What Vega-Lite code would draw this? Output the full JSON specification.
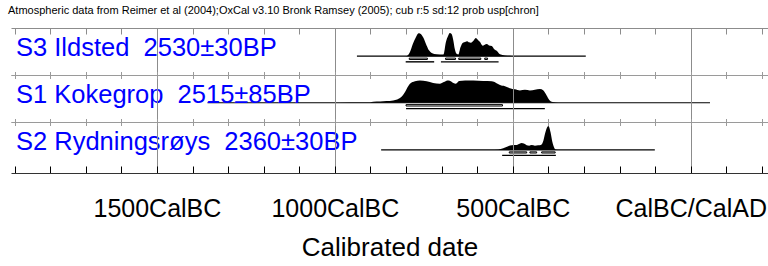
{
  "$schema": "https://vega.github.io/schema/vega-lite/v6.json",
  "padding": {"left": 8, "top": 4, "right": 0, "bottom": 0},
  "title": {"text": "Atmospheric data from Reimer et al (2004);OxCal v3.10 Bronk Ramsey (2005); cub r:5 sd:12 prob usp[chron]", "anchor": "start", "fontSize": 11, "fontWeight": "normal", "font": "Liberation Sans", "color": "black", "dx": -3, "offset": 12},
  "spacing": 0,
  "bounds": "flush",
  "datasets": {
    "dist": [
      {"row": "S3", "year": -806, "p": 0}, {"row": "S3", "year": -798, "p": 0.01}, {"row": "S3", "year": -789, "p": 0.18}, {"row": "S3", "year": -781, "p": 0.52}, {"row": "S3", "year": -772, "p": 0.82}, {"row": "S3", "year": -765, "p": 0.98}, {"row": "S3", "year": -761, "p": 0.97}, {"row": "S3", "year": -752, "p": 0.81}, {"row": "S3", "year": -742, "p": 0.45}, {"row": "S3", "year": -735, "p": 0.24}, {"row": "S3", "year": -728, "p": 0.14}, {"row": "S3", "year": -714, "p": 0.085}, {"row": "S3", "year": -695, "p": 0.07}, {"row": "S3", "year": -688, "p": 0.6}, {"row": "S3", "year": -682, "p": 0.86}, {"row": "S3", "year": -677, "p": 0.99}, {"row": "S3", "year": -672, "p": 0.95}, {"row": "S3", "year": -667, "p": 0.66}, {"row": "S3", "year": -663, "p": 0.31}, {"row": "S3", "year": -658, "p": 0.1}, {"row": "S3", "year": -653, "p": 0.07}, {"row": "S3", "year": -647, "p": 0.38}, {"row": "S3", "year": -640, "p": 0.57}, {"row": "S3", "year": -634, "p": 0.6}, {"row": "S3", "year": -628, "p": 0.64}, {"row": "S3", "year": -623, "p": 0.59}, {"row": "S3", "year": -618, "p": 0.57}, {"row": "S3", "year": -609, "p": 0.69}, {"row": "S3", "year": -604, "p": 0.77}, {"row": "S3", "year": -598, "p": 0.69}, {"row": "S3", "year": -592, "p": 0.6}, {"row": "S3", "year": -585, "p": 0.45}, {"row": "S3", "year": -580, "p": 0.48}, {"row": "S3", "year": -573, "p": 0.52}, {"row": "S3", "year": -567, "p": 0.46}, {"row": "S3", "year": -559, "p": 0.43}, {"row": "S3", "year": -553, "p": 0.31}, {"row": "S3", "year": -545, "p": 0.23}, {"row": "S3", "year": -536, "p": 0.08}, {"row": "S3", "year": -522, "p": 0.035}, {"row": "S3", "year": -502, "p": 0.013}, {"row": "S3", "year": -480, "p": 0},
      {"row": "S1", "year": -986, "p": 0}, {"row": "S1", "year": -930, "p": 0.007}, {"row": "S1", "year": -901, "p": 0.014}, {"row": "S1", "year": -892, "p": 0.043}, {"row": "S1", "year": -873, "p": 0.05}, {"row": "S1", "year": -855, "p": 0.07}, {"row": "S1", "year": -836, "p": 0.1}, {"row": "S1", "year": -825, "p": 0.14}, {"row": "S1", "year": -817, "p": 0.2}, {"row": "S1", "year": -812, "p": 0.26}, {"row": "S1", "year": -806, "p": 0.38}, {"row": "S1", "year": -798, "p": 0.6}, {"row": "S1", "year": -789, "p": 0.81}, {"row": "S1", "year": -775, "p": 0.91}, {"row": "S1", "year": -761, "p": 0.95}, {"row": "S1", "year": -742, "p": 0.91}, {"row": "S1", "year": -724, "p": 0.84}, {"row": "S1", "year": -705, "p": 0.81}, {"row": "S1", "year": -694, "p": 0.88}, {"row": "S1", "year": -684, "p": 0.95}, {"row": "S1", "year": -677, "p": 0.94}, {"row": "S1", "year": -667, "p": 0.84}, {"row": "S1", "year": -660, "p": 0.81}, {"row": "S1", "year": -651, "p": 0.92}, {"row": "S1", "year": -634, "p": 0.95}, {"row": "S1", "year": -611, "p": 0.95}, {"row": "S1", "year": -583, "p": 0.92}, {"row": "S1", "year": -559, "p": 0.91}, {"row": "S1", "year": -547, "p": 0.84}, {"row": "S1", "year": -536, "p": 0.75}, {"row": "S1", "year": -522, "p": 0.7}, {"row": "S1", "year": -508, "p": 0.62}, {"row": "S1", "year": -494, "p": 0.57}, {"row": "S1", "year": -480, "p": 0.52}, {"row": "S1", "year": -466, "p": 0.55}, {"row": "S1", "year": -452, "p": 0.52}, {"row": "S1", "year": -438, "p": 0.55}, {"row": "S1", "year": -424, "p": 0.58}, {"row": "S1", "year": -414, "p": 0.52}, {"row": "S1", "year": -405, "p": 0.31}, {"row": "S1", "year": -398, "p": 0.13}, {"row": "S1", "year": -388, "p": 0.03}, {"row": "S1", "year": -372, "p": 0},
      {"row": "S2", "year": -564, "p": 0}, {"row": "S2", "year": -541, "p": 0.014}, {"row": "S2", "year": -527, "p": 0.07}, {"row": "S2", "year": -513, "p": 0.16}, {"row": "S2", "year": -503, "p": 0.2}, {"row": "S2", "year": -489, "p": 0.21}, {"row": "S2", "year": -480, "p": 0.27}, {"row": "S2", "year": -475, "p": 0.3}, {"row": "S2", "year": -469, "p": 0.27}, {"row": "S2", "year": -461, "p": 0.2}, {"row": "S2", "year": -454, "p": 0.18}, {"row": "S2", "year": -447, "p": 0.21}, {"row": "S2", "year": -438, "p": 0.18}, {"row": "S2", "year": -429, "p": 0.2}, {"row": "S2", "year": -421, "p": 0.21}, {"row": "S2", "year": -414, "p": 0.4}, {"row": "S2", "year": -409, "p": 0.72}, {"row": "S2", "year": -403, "p": 0.98}, {"row": "S2", "year": -400, "p": 1.02}, {"row": "S2", "year": -398, "p": 0.98}, {"row": "S2", "year": -394, "p": 0.75}, {"row": "S2", "year": -389, "p": 0.35}, {"row": "S2", "year": -384, "p": 0.11}, {"row": "S2", "year": -379, "p": 0.014}, {"row": "S2", "year": -368, "p": 0}
    ],
    "rows": [
      {"row": "S3", "label": "S3 Ildsted \u00a02530±30BP", "start": -938, "end": -295},
      {"row": "S1", "label": "S1 Kokegrop \u00a02515±85BP", "start": -1358, "end": 54},
      {"row": "S2", "label": "S2 Rydningsrøys \u00a02360±30BP", "start": -870, "end": -101}
    ],
    "ranges": [
      {"row": "S3", "level": "68.2", "from": -791, "to": -740}, {"row": "S3", "level": "68.2", "from": -689, "to": -661}, {"row": "S3", "level": "68.2", "from": -652, "to": -590}, {"row": "S3", "level": "68.2", "from": -579, "to": -571},
      {"row": "S3", "level": "95.4", "from": -801, "to": -721}, {"row": "S3", "level": "95.4", "from": -702, "to": -540},
      {"row": "S1", "level": "68.2", "from": -800, "to": -529}, {"row": "S1", "level": "95.4", "from": -800, "to": -410},
      {"row": "S2", "level": "68.2", "from": -510, "to": -461}, {"row": "S2", "level": "68.2", "from": -452, "to": -433}, {"row": "S2", "level": "68.2", "from": -419, "to": -381},
      {"row": "S2", "level": "95.4", "from": -530, "to": -379}
    ]
  },
  "vconcat": [
    {
      "width": 757, "height": 47,
      "layer": [
        {"data": {"name": "dist"}, "transform": [{"filter": "datum.row === 'S3'"}],
         "mark": {"type": "area", "color": "black", "interpolate": "monotone"},
         "encoding": {
           "x": {"field": "year", "type": "quantitative", "scale": {"domain": [-1910, 217], "nice": false, "zero": false}, "axis": {"orient": "top", "values": [-1900,-1800,-1700,-1600,-1500,-1400,-1300,-1200,-1100,-1000,-900,-800,-700,-600,-500,-400,-300,-200,-100,0,100,200], "labels": false, "title": null, "grid": false, "tickSize": -6, "tickColor": "#8c8c8c", "domainColor": "#8c8c8c", "domainWidth": 1.2, "zindex": 1}},
           "y": {"field": "p", "type": "quantitative", "scale": {"domain": [-0.8, 1.2], "nice": false, "zero": false}, "axis": {"orient": "left", "labels": false, "ticks": false, "grid": false, "title": null, "domainColor": "black", "zindex": 2}},
           "y2": {"datum": 0}
         }},
        {"data": {"name": "rows"}, "transform": [{"filter": "datum.row === 'S3'"}],
         "mark": {"type": "rule", "color": "black", "strokeWidth": 1.2},
         "encoding": {
           "x": {"field": "start", "type": "quantitative", "scale": {"domain": [-1910, 217], "nice": false, "zero": false}, "axis": {"orient": "bottom", "values": [-1900,-1800,-1700,-1600,-1500,-1400,-1300,-1200,-1100,-1000,-900,-800,-700,-600,-500,-400,-300,-200,-100,0,100,200], "labels": false, "title": null, "grid": false, "tickSize": -3.5, "tickColor": "#9a9a9a", "domainColor": "#9a9a9a", "domainWidth": 1.2, "zindex": 1}},
           "x2": {"field": "end"},
           "y": {"datum": 0, "type": "quantitative", "scale": {"domain": [-0.8, 1.2], "nice": false, "zero": false}, "axis": null}
         }},
        {"data": {"name": "ranges"}, "transform": [{"filter": "datum.row === 'S3' && datum.level === '95.4'"}],
         "mark": {"type": "rect", "color": "black"},
         "encoding": {
           "x": {"field": "from", "type": "quantitative", "scale": {"domain": [-1910, 217], "nice": false, "zero": false}, "axis": {"orient": "bottom", "values": [-1500, -1000, -500, 0], "labels": false, "ticks": false, "domain": false, "title": null, "grid": true, "gridColor": "#8c8c8c", "gridWidth": 1, "zindex": 1}},
           "x2": {"field": "to"},
           "y": {"datum": -0.21, "type": "quantitative", "scale": {"domain": [-0.8, 1.2], "nice": false, "zero": false}, "axis": null},
           "y2": {"datum": -0.27}
         }},
        {"data": {"name": "ranges"}, "transform": [{"filter": "datum.row === 'S3' && datum.level === '68.2'"}],
         "mark": {"type": "rect", "fill": "white", "stroke": "black", "strokeWidth": 1},
         "encoding": {
           "x": {"field": "from", "type": "quantitative", "scale": {"domain": [-1910, 217], "nice": false, "zero": false}, "axis": null},
           "x2": {"field": "to"},
           "y": {"datum": -0.08, "type": "quantitative", "scale": {"domain": [-0.8, 1.2], "nice": false, "zero": false}, "axis": null},
           "y2": {"datum": -0.14}
         }},
        {"data": {"name": "rows"}, "transform": [{"filter": "datum.row === 'S3'"}],
         "mark": {"type": "text", "align": "left", "baseline": "alphabetic", "fontSize": 25.5, "color": "#0000ff", "font": "Liberation Sans"},
         "encoding": {
           "x": {"datum": -1896, "type": "quantitative", "scale": {"domain": [-1910, 217], "nice": false, "zero": false}, "axis": null},
           "y": {"datum": 0, "type": "quantitative", "scale": {"domain": [-0.8, 1.2], "nice": false, "zero": false}, "axis": null},
           "text": {"field": "label"}
         }}
      ],
      "resolve": {"axis": {"x": "independent"}}
    },
    {
      "width": 757, "height": 47,
      "layer": [
        {"data": {"name": "dist"}, "transform": [{"filter": "datum.row === 'S1'"}],
         "mark": {"type": "area", "color": "black", "interpolate": "monotone"},
         "encoding": {
           "x": {"field": "year", "type": "quantitative", "scale": {"domain": [-1910, 217], "nice": false, "zero": false}, "axis": {"orient": "top", "values": [-1900,-1800,-1700,-1600,-1500,-1400,-1300,-1200,-1100,-1000,-900,-800,-700,-600,-500,-400,-300,-200,-100,0,100,200], "labels": false, "title": null, "grid": false, "tickSize": -3.5, "tickColor": "#9a9a9a", "domainColor": "#9a9a9a", "domainWidth": 1.2, "zindex": 1}},
           "y": {"field": "p", "type": "quantitative", "scale": {"domain": [-0.82, 1.18], "nice": false, "zero": false}, "axis": {"orient": "left", "labels": false, "ticks": false, "grid": false, "title": null, "domainColor": "black", "zindex": 2}},
           "y2": {"datum": 0}
         }},
        {"data": {"name": "rows"}, "transform": [{"filter": "datum.row === 'S1'"}],
         "mark": {"type": "rule", "color": "black", "strokeWidth": 1.2},
         "encoding": {
           "x": {"field": "start", "type": "quantitative", "scale": {"domain": [-1910, 217], "nice": false, "zero": false}, "axis": {"orient": "bottom", "values": [-1900,-1800,-1700,-1600,-1500,-1400,-1300,-1200,-1100,-1000,-900,-800,-700,-600,-500,-400,-300,-200,-100,0,100,200], "labels": false, "title": null, "grid": false, "tickSize": -3.5, "tickColor": "#9a9a9a", "domainColor": "#9a9a9a", "domainWidth": 1.2, "zindex": 1}},
           "x2": {"field": "end"},
           "y": {"datum": 0, "type": "quantitative", "scale": {"domain": [-0.82, 1.18], "nice": false, "zero": false}, "axis": null}
         }},
        {"data": {"name": "ranges"}, "transform": [{"filter": "datum.row === 'S1' && datum.level === '95.4'"}],
         "mark": {"type": "rect", "color": "black"},
         "encoding": {
           "x": {"field": "from", "type": "quantitative", "scale": {"domain": [-1910, 217], "nice": false, "zero": false}, "axis": {"orient": "bottom", "values": [-1500, -1000, -500, 0], "labels": false, "ticks": false, "domain": false, "title": null, "grid": true, "gridColor": "#8c8c8c", "gridWidth": 1, "zindex": 1}},
           "x2": {"field": "to"},
           "y": {"datum": -0.22, "type": "quantitative", "scale": {"domain": [-0.82, 1.18], "nice": false, "zero": false}, "axis": null},
           "y2": {"datum": -0.28}
         }},
        {"data": {"name": "ranges"}, "transform": [{"filter": "datum.row === 'S1' && datum.level === '68.2'"}],
         "mark": {"type": "rect", "fill": "white", "stroke": "black", "strokeWidth": 1},
         "encoding": {
           "x": {"field": "from", "type": "quantitative", "scale": {"domain": [-1910, 217], "nice": false, "zero": false}, "axis": null},
           "x2": {"field": "to"},
           "y": {"datum": -0.08, "type": "quantitative", "scale": {"domain": [-0.82, 1.18], "nice": false, "zero": false}, "axis": null},
           "y2": {"datum": -0.14}
         }},
        {"data": {"name": "rows"}, "transform": [{"filter": "datum.row === 'S1'"}],
         "mark": {"type": "text", "align": "left", "baseline": "alphabetic", "fontSize": 25.5, "color": "#0000ff", "font": "Liberation Sans"},
         "encoding": {
           "x": {"datum": -1896, "type": "quantitative", "scale": {"domain": [-1910, 217], "nice": false, "zero": false}, "axis": null},
           "y": {"datum": 0, "type": "quantitative", "scale": {"domain": [-0.82, 1.18], "nice": false, "zero": false}, "axis": null},
           "text": {"field": "label"}
         }}
      ],
      "resolve": {"axis": {"x": "independent"}}
    },
    {
      "width": 757, "height": 51,
      "layer": [
        {"data": {"name": "dist"}, "transform": [{"filter": "datum.row === 'S2'"}],
         "mark": {"type": "area", "color": "black", "interpolate": "monotone"},
         "encoding": {
           "x": {"field": "year", "type": "quantitative", "scale": {"domain": [-1910, 217], "nice": false, "zero": false}, "axis": {"orient": "top", "values": [-1900,-1800,-1700,-1600,-1500,-1400,-1300,-1200,-1100,-1000,-900,-800,-700,-600,-500,-400,-300,-200,-100,0,100,200], "labels": false, "title": null, "grid": false, "tickSize": -3.5, "tickColor": "#9a9a9a", "domainColor": "#9a9a9a", "domainWidth": 1.2, "zindex": 1}},
           "y": {"field": "p", "type": "quantitative", "scale": {"domain": [-0.98, 1.19], "nice": false, "zero": false}, "axis": {"orient": "left", "labels": false, "ticks": false, "grid": false, "title": null, "domainColor": "black", "zindex": 2}},
           "y2": {"datum": 0}
         }},
        {"data": {"name": "rows"}, "transform": [{"filter": "datum.row === 'S2'"}],
         "mark": {"type": "rule", "color": "black", "strokeWidth": 1.2},
         "encoding": {
           "x": {"field": "start", "type": "quantitative", "scale": {"domain": [-1910, 217], "nice": false, "zero": false}, "axis": {"orient": "bottom", "values": [-1900,-1800,-1700,-1600,-1500,-1400,-1300,-1200,-1100,-1000,-900,-800,-700,-600,-500,-400,-300,-200,-100,0,100,200], "labels": false, "title": null, "grid": false, "tickSize": -7, "tickColor": "black", "domainColor": "#333333", "zindex": 1}},
           "x2": {"field": "end"},
           "y": {"datum": 0, "type": "quantitative", "scale": {"domain": [-0.98, 1.19], "nice": false, "zero": false}, "axis": null}
         }},
        {"data": {"name": "ranges"}, "transform": [{"filter": "datum.row === 'S2' && datum.level === '95.4'"}],
         "mark": {"type": "rect", "color": "black"},
         "encoding": {
           "x": {"field": "from", "type": "quantitative", "scale": {"domain": [-1910, 217], "nice": false, "zero": false}, "axis": {"orient": "bottom", "values": [-1500, -1000, -500, 0], "labelExpr": "datum.value == 0 ? 'CalBC/CalAD' : (-datum.value) + 'CalBC'", "labelFontSize": 25, "labelFont": "Liberation Sans", "labelColor": "black", "labelPadding": 23, "ticks": false, "domain": false, "title": "Calibrated date", "titleFontSize": 26, "titleFont": "Liberation Sans", "titleFontWeight": "normal", "titleColor": "black", "titlePadding": 13, "grid": true, "gridColor": "#8c8c8c", "gridWidth": 1, "zindex": 1}},
           "x2": {"field": "to"},
           "y": {"datum": -0.2, "type": "quantitative", "scale": {"domain": [-0.98, 1.19], "nice": false, "zero": false}, "axis": null},
           "y2": {"datum": -0.26}
         }},
        {"data": {"name": "ranges"}, "transform": [{"filter": "datum.row === 'S2' && datum.level === '68.2'"}],
         "mark": {"type": "rect", "fill": "white", "stroke": "black", "strokeWidth": 1},
         "encoding": {
           "x": {"field": "from", "type": "quantitative", "scale": {"domain": [-1910, 217], "nice": false, "zero": false}, "axis": null},
           "x2": {"field": "to"},
           "y": {"datum": -0.08, "type": "quantitative", "scale": {"domain": [-0.98, 1.19], "nice": false, "zero": false}, "axis": null},
           "y2": {"datum": -0.13}
         }},
        {"data": {"name": "rows"}, "transform": [{"filter": "datum.row === 'S2'"}],
         "mark": {"type": "text", "align": "left", "baseline": "alphabetic", "fontSize": 25.5, "color": "#0000ff", "font": "Liberation Sans"},
         "encoding": {
           "x": {"datum": -1896, "type": "quantitative", "scale": {"domain": [-1910, 217], "nice": false, "zero": false}, "axis": null},
           "y": {"datum": 0, "type": "quantitative", "scale": {"domain": [-0.98, 1.19], "nice": false, "zero": false}, "axis": null},
           "text": {"field": "label"}
         }}
      ],
      "resolve": {"axis": {"x": "independent"}}
    }
  ],
  "config": {
    "font": "Liberation Sans",
    "view": {"stroke": null},
    "axis": {"labelFont": "Liberation Sans", "titleFont": "Liberation Sans"}
  }
}
